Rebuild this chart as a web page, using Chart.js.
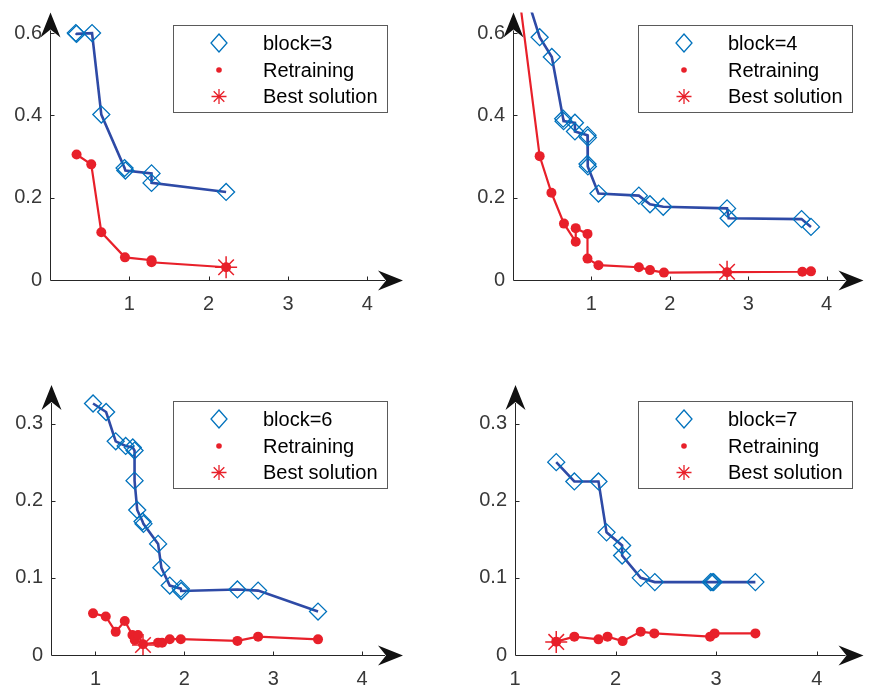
<!DOCTYPE html>
<html>
<head>
<meta charset="utf-8">
<script src="https://cdn.jsdelivr.net/npm/chart.js@4.4.1/dist/chart.umd.min.js"></script>
<style>
  body { margin: 0; background: #fff; }
  #wrap { position: relative; width: 876px; height: 687px; }
  #wrap canvas { position: absolute; }
</style>
</head>
<body>
<div id="wrap">
  <canvas id="p3" width="438" height="340" style="left:0;top:0"></canvas>
  <canvas id="p4" width="438" height="340" style="left:438px;top:0"></canvas>
  <canvas id="p6" width="438" height="347" style="left:0;top:340px"></canvas>
  <canvas id="p7" width="438" height="347" style="left:438px;top:340px"></canvas>
</div>
<script>
// block=3
const b3BlockX = [0.325, 0.335, 0.53, 0.647, 0.94, 0.95, 1.28, 1.28, 2.22];
const b3BlockY = [0.600, 0.598, 0.600, 0.402, 0.272, 0.266, 0.259, 0.236, 0.214];
const b3RetrainX = [0.335, 0.52, 0.647, 0.945, 1.28, 1.28, 2.22];
const b3RetrainY = [0.305, 0.281, 0.116, 0.055, 0.048, 0.043, 0.031];
const b3BestX = [2.22];
const b3BestY = [0.031];

// block=4
const b4BlockX = [0.125, 0.34, 0.495, 0.64, 0.645, 0.79, 0.79, 0.95, 0.955, 0.95, 0.955, 1.09, 1.605, 1.747, 1.916, 2.73, 2.75, 3.68, 3.80];
const b4BlockY = [0.72, 0.59, 0.542, 0.392, 0.386, 0.382, 0.361, 0.352, 0.346, 0.282, 0.276, 0.21, 0.205, 0.184, 0.178, 0.174, 0.15, 0.148, 0.129];
const b4RetrainX = [0.06, 0.34, 0.49, 0.65, 0.80, 0.80, 0.95, 0.95, 1.09, 1.605, 1.747, 1.925, 2.73, 3.69, 3.80];
const b4RetrainY = [0.72, 0.301, 0.212, 0.137, 0.093, 0.126, 0.112, 0.052, 0.036, 0.031, 0.024, 0.018, 0.019, 0.020, 0.021];
const b4BestX = [2.73];
const b4BestY = [0.02];

// block=6
const b6BlockX = [0.973, 1.12, 1.228, 1.34, 1.42, 1.44, 1.44, 1.47, 1.53, 1.54, 1.705, 1.742, 1.836, 1.96, 1.965, 2.597, 2.83, 3.504];
const b6BlockY = [0.326, 0.315, 0.277, 0.271, 0.269, 0.265, 0.226, 0.188, 0.173, 0.170, 0.144, 0.113, 0.090, 0.086, 0.083, 0.085, 0.0835, 0.0563];
const b6RetrainX = [0.973, 1.116, 1.228, 1.33, 1.416, 1.442, 1.479, 1.535, 1.705, 1.75, 1.836, 1.96, 2.597, 2.83, 3.504];
const b6RetrainY = [0.054, 0.050, 0.030, 0.044, 0.026, 0.0195, 0.026, 0.014, 0.016, 0.016, 0.0205, 0.0205, 0.0183, 0.0238, 0.0203];
const b6BestX = [1.535];
const b6BestY = [0.013];

// block=7
const b7BlockX = [1.41, 1.59, 1.83, 1.91, 2.065, 2.065, 2.25, 2.39, 2.945, 2.96, 2.975, 3.39];
const b7BlockY = [0.25, 0.225, 0.225, 0.159, 0.142, 0.129, 0.100, 0.0945, 0.0945, 0.0945, 0.0945, 0.0945];
const b7RetrainX = [1.41, 1.59, 1.83, 1.92, 2.07, 2.25, 2.385, 2.94, 2.985, 3.39];
const b7RetrainY = [0.0173, 0.0238, 0.0203, 0.0238, 0.018, 0.0303, 0.028, 0.0238, 0.028, 0.028];
const b7BestX = [1.41];
const b7BestY = [0.017];

const ticksX = [1, 2, 3, 4];
const ticksYTop = [0, 0.2, 0.4, 0.6];
const ticksYBottom = [0, 0.1, 0.2, 0.3];

const FONT = '"Liberation Sans", Arial, sans-serif';
const BLUE_LINE = '#2e4aa6';
const BLUE_MARK = '#0072bd';
const RED = '#e8202a';
const AXIS = '#262626';

function pairs(xs, ys) {
  return xs.map((x, i) => ({ x: x, y: ys[i] }));
}

function noPad(s) {
  s.paddingTop = 0; s.paddingBottom = 0; s.paddingLeft = 0; s.paddingRight = 0;
}

// axis lines, inward ticks and arrow heads
const axesPlugin = {
  id: 'axesPlugin',
  afterDatasetsDraw(chart) {
    const ctx = chart.ctx;
    const a = chart.chartArea;
    const sx = chart.scales.x, sy = chart.scales.y;
    const x0 = Math.round(a.left) + 0.5;
    const y0 = Math.round(a.bottom) + 0.5;
    ctx.save();
    ctx.strokeStyle = AXIS;
    ctx.lineWidth = 1;
    ctx.beginPath();
    ctx.moveTo(x0, y0); ctx.lineTo(a.right - 18, y0);
    ctx.moveTo(x0, y0); ctx.lineTo(x0, a.top + 18);
    sx.ticks.forEach(t => {
      const px = Math.round(sx.getPixelForValue(t.value)) + 0.5;
      if (px > x0 + 2) { ctx.moveTo(px, y0); ctx.lineTo(px, y0 - 4); }
    });
    sy.ticks.forEach(t => {
      const py = Math.round(sy.getPixelForValue(t.value)) + 0.5;
      if (py < y0 - 2) { ctx.moveTo(x0, py); ctx.lineTo(x0 + 4, py); }
    });
    ctx.stroke();

    ctx.fillStyle = '#111';
    // x arrow
    ctx.beginPath();
    ctx.moveTo(a.right, y0);
    ctx.lineTo(a.right - 25, y0 - 10);
    ctx.lineTo(a.right - 17, y0);
    ctx.lineTo(a.right - 25, y0 + 10);
    ctx.closePath();
    ctx.fill();
    // y arrow
    ctx.beginPath();
    ctx.moveTo(x0, a.top);
    ctx.lineTo(x0 - 10, a.top + 25);
    ctx.lineTo(x0, a.top + 17);
    ctx.lineTo(x0 + 10, a.top + 25);
    ctx.closePath();
    ctx.fill();
    ctx.restore();
  }
};

// boxed legend inside the plot
const boxLegend = {
  id: 'boxLegend',
  afterDraw(chart, args, opts) {
    const ctx = chart.ctx;
    const L = opts.left, T = opts.top, W = 214, H = 87;
    const names = chart.data.datasets.map(d => d.label);
    const mx = L + 46, tx = L + 90;
    const rows = [T + 18, T + 45, T + 71.5];
    ctx.save();
    ctx.fillStyle = '#fff';
    ctx.fillRect(L, T, W, H);
    ctx.strokeStyle = '#5a5a5a';
    ctx.lineWidth = 1;
    ctx.strokeRect(L + 0.5, T + 0.5, W, H);

    // diamond
    ctx.strokeStyle = BLUE_MARK;
    ctx.lineWidth = 1.3;
    ctx.beginPath();
    ctx.moveTo(mx, rows[0] - 9);
    ctx.lineTo(mx + 8, rows[0]);
    ctx.lineTo(mx, rows[0] + 9);
    ctx.lineTo(mx - 8, rows[0]);
    ctx.closePath();
    ctx.stroke();
    // dot
    ctx.fillStyle = RED;
    ctx.beginPath();
    ctx.arc(mx, rows[1], 2.8, 0, Math.PI * 2);
    ctx.fill();
    // star
    ctx.strokeStyle = RED;
    ctx.lineWidth = 1.3;
    ctx.beginPath();
    for (let k = 0; k < 4; k++) {
      const ang = k * Math.PI / 4;
      const dx = Math.cos(ang) * 7.5, dy = Math.sin(ang) * 7.5;
      ctx.moveTo(mx - dx, rows[2] - dy);
      ctx.lineTo(mx + dx, rows[2] + dy);
    }
    ctx.stroke();

    ctx.fillStyle = '#000';
    ctx.font = '20px ' + FONT;
    ctx.textBaseline = 'middle';
    ctx.textAlign = 'left';
    names.forEach((n, i) => ctx.fillText(n, tx, rows[i] + 1));
    ctx.restore();
  }
};

function makePanel(id, p) {
  new Chart(document.getElementById(id), {
    type: 'scatter',
    data: {
      datasets: [
        {
          label: p.label,
          data: pairs(p.bx, p.by),
          showLine: true,
          borderColor: BLUE_LINE,
          borderWidth: 2.6,
          pointStyle: 'rectRot',
          pointRadius: 8.5,
          pointBorderColor: BLUE_MARK,
          pointBorderWidth: 1.3,
          pointBackgroundColor: 'rgba(0,0,0,0)'
        },
        {
          label: 'Retraining',
          data: pairs(p.rx, p.ry),
          showLine: true,
          borderColor: RED,
          borderWidth: 2.2,
          pointRadius: 5,
          pointBorderWidth: 0,
          pointBackgroundColor: RED
        },
        {
          label: 'Best solution',
          data: pairs(p.sx, p.sy),
          pointStyle: 'star',
          pointRadius: 11,
          pointBorderColor: RED,
          pointBorderWidth: 1.5,
          pointBackgroundColor: RED
        }
      ]
    },
    options: {
      responsive: false,
      animation: false,
      events: [],
      layout: { padding: { left: 0, top: p.top, right: p.right, bottom: 0 } },
      plugins: {
        legend: { display: false },
        tooltip: { enabled: false },
        boxLegend: { left: p.legLeft, top: p.legTop }
      },
      scales: {
        x: {
          type: 'linear',
          min: p.xmin,
          max: p.xmax,
          afterFit: s => { s.height = p.xh; noPad(s); },
          afterBuildTicks: s => { s.ticks = ticksX.map(v => ({ value: v })); },
          grid: { display: false, drawTicks: false },
          border: { display: false },
          ticks: { autoSkip: false, maxRotation: 0, padding: 12, color: '#383838', font: { size: 20, family: FONT } }
        },
        y: {
          type: 'linear',
          min: 0,
          max: p.ymax,
          afterFit: s => { s.width = p.yw; noPad(s); },
          afterBuildTicks: s => { s.ticks = p.yt.map(v => ({ value: v })); },
          grid: { display: false, drawTicks: false },
          border: { display: false },
          ticks: { autoSkip: false, padding: 8, color: '#383838', font: { size: 20, family: FONT }, callback: v => String(v) }
        }
      }
    },
    plugins: [axesPlugin, boxLegend]
  });
}

makePanel('p3', {
  label: 'block=3', bx: b3BlockX, by: b3BlockY, rx: b3RetrainX, ry: b3RetrainY, sx: b3BestX, sy: b3BestY,
  xmin: 0, xmax: 4.45, ymax: 0.65, yt: ticksYTop, yw: 50, xh: 60, top: 10, right: 35, legLeft: 173, legTop: 25
});
makePanel('p4', {
  label: 'block=4', bx: b4BlockX, by: b4BlockY, rx: b4RetrainX, ry: b4RetrainY, sx: b4BestX, sy: b4BestY,
  xmin: 0, xmax: 4.47, ymax: 0.65, yt: ticksYTop, yw: 75, xh: 60, top: 10, right: 8, legLeft: 200, legTop: 25
});
makePanel('p6', {
  label: 'block=6', bx: b6BlockX, by: b6BlockY, rx: b6RetrainX, ry: b6RetrainY, sx: b6BestX, sy: b6BestY,
  xmin: 0.5, xmax: 4.46, ymax: 0.35, yt: ticksYBottom, yw: 51, xh: 32, top: 45, right: 35, legLeft: 173, legTop: 61
});
makePanel('p7', {
  label: 'block=7', bx: b7BlockX, by: b7BlockY, rx: b7RetrainX, ry: b7RetrainY, sx: b7BestX, sy: b7BestY,
  xmin: 1, xmax: 4.465, ymax: 0.35, yt: ticksYBottom, yw: 77, xh: 32, top: 45, right: 8, legLeft: 200, legTop: 61
});
</script>
</body>
</html>
